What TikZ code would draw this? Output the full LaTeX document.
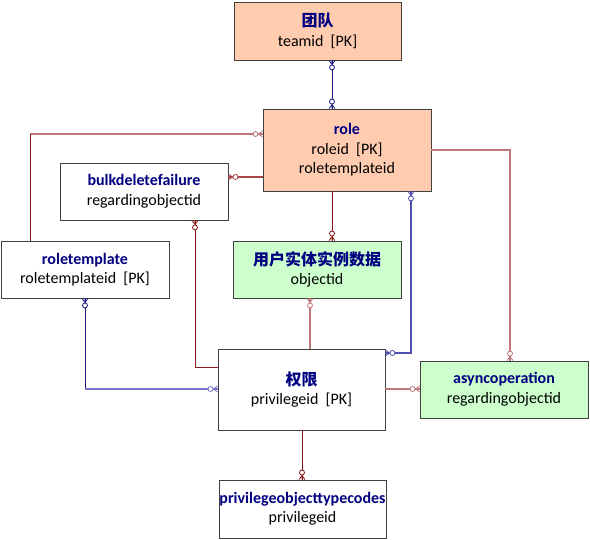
\documentclass[tikz,border=0pt]{standalone}
\usepackage{fontspec}
\setmainfont{Carlito}
\newfontfamily\cjk{Noto Sans CJK SC}
\usetikzlibrary{shadows}
\definecolor{salmon}{HTML}{FFCCB0}
\definecolor{mint}{HTML}{CCFFCC}
\definecolor{ttlblue}{HTML}{000080}
\definecolor{rdark}{HTML}{8B1A1A}
\definecolor{rmid}{HTML}{A84848}
\definecolor{rlight}{HTML}{C07878}
\definecolor{bdark}{HTML}{1A1A80}
\definecolor{bmid}{HTML}{5050B0}
\definecolor{blight}{HTML}{7878C8}
\newcommand\etitle[1]{{\color{ttlblue}\bfseries #1}}
\tikzset{
  ent/.style={draw=black!75, line width=0.9pt, inner sep=0pt, align=center,
    font=\fontsize{16}{19.5}\selectfont,
    drop shadow={shadow xshift=1.3pt, shadow yshift=-1.3pt, fill=black!35, opacity=1}},
  darkln/.style={line width=1pt},
  lightln/.style={line width=1.4pt},
  endD/.pic={\draw[line width=0.8pt] (0,4)--(-3,0) (0,4)--(3,0) (0,0)--(0,4);
             \draw[line width=0.8pt,fill=white] (0,7) circle[radius=2.5pt];},
  endU/.pic={\draw[line width=0.8pt] (0,-4)--(-3,0) (0,-4)--(3,0) (0,0)--(0,-4);
             \draw[line width=0.8pt,fill=white] (0,-7) circle[radius=2.5pt];},
  endR/.pic={\draw[line width=0.8pt] (4,0)--(0,-3) (4,0)--(0,3) (0,0)--(4,0);
             \draw[line width=0.8pt,fill=white] (7,0) circle[radius=2.5pt];},
  endL/.pic={\draw[line width=0.8pt] (-4,0)--(0,-3) (-4,0)--(0,3) (0,0)--(-4,0);
             \draw[line width=0.8pt,fill=white] (-7,0) circle[radius=2.5pt];},
}
\begin{document}
\begin{tikzpicture}[x=1pt,y=-1pt]
\useasboundingbox (0,0) rectangle (590,540);

\coordinate (k2) at (30,134);
\coordinate (k4) at (195,368);
\coordinate (k6) at (411,353);
\coordinate (k7) at (510,150);
\coordinate (k8) at (85,389);

\path
 (317.5,31) node[ent, fill=salmon, minimum width=167pt, minimum height=58pt] (team)
   {\etitle{\cjk 团队}\\teamid\ \ [PK]}
 (347,150) node[ent, fill=salmon, minimum width=168pt, minimum height=82pt] (role)
   {\etitle{role}\\roleid\ \ [PK]\\roletemplateid}
 (144,191.5) node[ent, fill=white, minimum width=168pt, minimum height=57pt] (bulk)
   {\etitle{bulkdeletefailure}\\regardingobjectid}
 (85,269.5) node[ent, fill=white, minimum width=168pt, minimum height=57pt] (rt)
   {\etitle{roletemplate}\\roletemplateid\ \ [PK]}
 (317,269.5) node[ent, fill=mint, minimum width=168pt, minimum height=57pt] (user)
   {\etitle{\cjk 用户实体实例数据}\\objectid}
 (301.5,389.5) node[ent, fill=white, minimum width=167pt, minimum height=81pt] (priv)
   {\etitle{\cjk 权限}\\privilegeid\ \ [PK]}
 (504,389.5) node[ent, fill=mint, minimum width=168pt, minimum height=57pt] (async)
   {\etitle{asyncoperation}\\regardingobjectid}
 (302.5,509) node[ent, fill=white, minimum width=167pt, minimum height=58pt] (pot)
   {\etitle{privilegeobjecttypecodes}\\privilegeid};

% 1 team - role
\draw[bdark,darkln] (team.south -| 332,0) -- (role.north -| 332,0);
\pic[bdark] at (team.south -| 332,0) {endD};
\pic[bdark] at (role.north -| 332,0) {endU};
% 2 role - roletemplate
\draw[rlight,lightln] (role.west |- k2) -- (k2);
\draw[rdark,darkln] (k2) -- (rt.north -| k2);
\pic[rlight] at (role.west |- k2) {endL};
% 3 role - bulkdeletefailure
\draw[rmid,lightln] (role.west |- 0,177) -- (bulk.east |- 0,177);
\pic[rmid] at (bulk.east |- 0,177) {endR};
% 4 bulkdeletefailure - priv
\draw[rdark,darkln] (bulk.south -| k4) -- (k4) -- (priv.west |- k4);
\pic[rdark] at (bulk.south -| k4) {endD};
% 5 role - user
\draw[rdark,darkln] (role.south -| 332,0) -- (user.north -| 332,0);
\pic[rdark] at (user.north -| 332,0) {endU};
% 6 role - priv (blue)
\draw[bmid,lightln] (role.south -| k6) -- (k6) -- (priv.east |- k6);
\pic[bmid] at (role.south -| k6) {endD};
\pic[bmid] at (priv.east |- k6) {endR};
% 7 role - async
\draw[rlight,lightln] (role.east |- k7) -- (k7) -- (async.north -| k7);
\pic[rlight] at (async.north -| k7) {endU};
% 8 roletemplate - priv
\draw[bdark,darkln] (rt.south -| k8) -- (k8);
\draw[blight,lightln] (k8) -- (priv.west |- k8);
\pic[bdark] at (rt.south -| k8) {endD};
\pic[blight] at (priv.west |- k8) {endL};
% 9 user - priv
\draw[rlight,lightln] (user.south -| 310,0) -- (priv.north -| 310,0);
\pic[rlight] at (user.south -| 310,0) {endD};
% 10 priv - async
\draw[rlight,lightln] (priv.east |- 0,389) -- (async.west |- 0,389);
\pic[rlight] at (async.west |- 0,389) {endL};
% 11 priv - privilegeobjecttypecodes
\draw[rdark,darkln] (priv.south -| 302,0) -- (pot.north -| 302,0);
\pic[rdark] at (pot.north -| 302,0) {endU};
\end{tikzpicture}
\end{document}
